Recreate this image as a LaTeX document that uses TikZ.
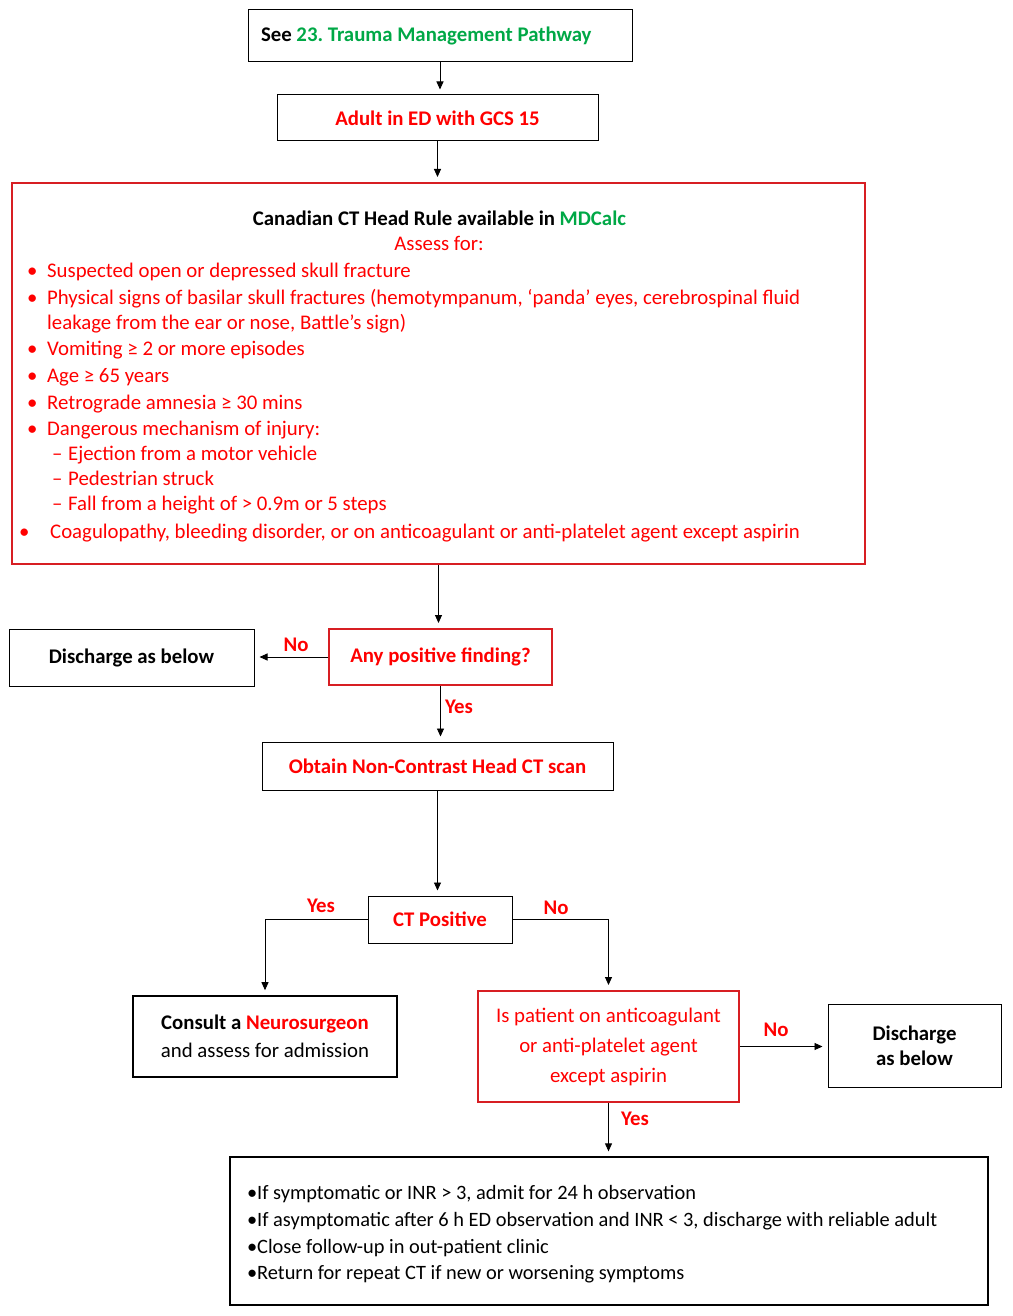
\documentclass[tikz,border=0pt]{standalone}
\usepackage{fontspec}
\setmainfont{Carlito}
\usetikzlibrary{arrows.meta,positioning}
\definecolor{tred}{RGB}{255,0,0}
\definecolor{bred}{RGB}{215,30,35}
\definecolor{tgreen}{RGB}{0,168,70}
\newcommand\bsz{\fontsize{20.8}{25}\selectfont}
\begin{document}
\frenchspacing
\begin{tikzpicture}[x=1pt, y=-1pt, >={Triangle[width=7pt,length=8pt]},
  box/.style={draw, line width=1pt, inner sep=0pt, align=center, font=\bsz},
  redbox/.style={box, draw=bred, line width=2pt},
  yesno/.style={font=\bsz\bfseries, text=tred, inner sep=0pt},
  item/.style={anchor=mid west, inner sep=0pt, font=\bsz, text=tred},
  link/.style={->, line width=0.9pt, shorten >=5pt}]
  \useasboundingbox (0,0) rectangle (1012,1316);

  % top of the pathway
  \node[box, minimum width=384pt, minimum height=52pt, text width=358pt, align=flush left, font=\bsz\bfseries] (see) at (440,36) {See \textcolor{tgreen}{23. Trauma Management Pathway}};
  \node[box, minimum width=321pt, minimum height=46pt, font=\bsz\bfseries, text=tred] (adult) at (437.5,118) {Adult in ED with GCS 15};

  % Canadian CT head rule
  \node[redbox, minimum width=853pt, minimum height=381pt] (rule) at (438.5,373.5) {};
  \node[font=\bsz\bfseries, inner sep=0pt, anchor=mid] (title) at (439.5,223) {Canadian CT Head Rule available in \textcolor{tgreen}{MDCalc}};
  \node[item, anchor=mid] (assess) at (439,248) {Assess for:};
  \foreach \yy/\txt [count=\i] in {275/{Suspected open or depressed skull fracture},
      302/{Physical signs of basilar skull fractures (hemotympanum, ‘panda’ eyes, cerebrospinal fluid},
      353/{Vomiting ≥ 2 or more episodes}, 380/{Age ≥ 65 years},
      407/{Retrograde amnesia ≥ 30 mins}, 433/{Dangerous mechanism of injury:}} {
    \node[item] (bul\i) at (27,\yy) {•};
    \node[item] (crit\i) at (47,\yy) {\txt};
  }
  \node[item] (crit2b) at (47,327) {leakage from the ear or nose, Battle’s sign)};
  \foreach \yy/\txt [count=\i] in {458/{Ejection from a motor vehicle}, 483/{Pedestrian struck},
      508/{Fall from a height of > 0.9m or 5 steps}} {
    \node[item] (dash\i) at (52,\yy) {–};
    \node[item] (mech\i) at (68,\yy) {\txt};
  }
  \node[item] (bul7) at (19,536) {•};
  \node[item] (crit7) at (50,536) {Coagulopathy, bleeding disorder, or on anticoagulant or anti-platelet agent except aspirin};

  % decisions
  \node[redbox, minimum width=223pt, minimum height=56pt, font=\bsz\bfseries, text=tred] (anypos) at (440.5,657) {Any positive finding?};
  \node[box, minimum width=245pt, minimum height=57pt, font=\bsz\bfseries] (dis1) at (131.5,657.5) {Discharge as below};
  \node[box, minimum width=351pt, minimum height=48pt, font=\bsz\bfseries, text=tred] (obtain) at (437.5,766) {Obtain Non-Contrast Head CT scan};
  \node[box, minimum width=144pt, minimum height=47pt, font=\bsz\bfseries, text=tred] (ctpos) at (440,919.5) {CT Positive};
  \node[box, line width=1.6pt, minimum width=264pt, minimum height=81pt, font=\fontsize{20.8}{28}\selectfont] (consult) at (265,1036.5) {\textbf{Consult a \textcolor{tred}{Neurosurgeon}}\\and assess for admission};
  \node[redbox, minimum width=261pt, minimum height=111pt, font=\fontsize{20.8}{30}\selectfont, text=tred] (onanti) at (608.5,1046.5) {Is patient on anticoagulant\\or anti-platelet agent\\except aspirin};
  \node[box, minimum width=173pt, minimum height=83pt, font=\bsz\bfseries] (dis2) at (914.5,1045.5) {Discharge\\as below};
  \node[box, line width=1.3pt, minimum width=758pt, minimum height=148pt, text width=724pt, align=flush left, font=\fontsize{20.4}{26.7}\selectfont] (advice) at (609,1231) {\rule{0pt}{21pt}•If symptomatic or INR > 3, admit for 24 h observation\\•If asymptomatic after 6 h ED observation and INR < 3, discharge with reliable adult\\•Close follow-up in out-patient clinic\\•Return for repeat CT if new or worsening symptoms};

  % connectors
  \draw[link] (see.south) -- (see.south |- adult.north);
  \draw[link] (adult.south) -- (adult.south |- rule.north);
  \draw[link] (rule.south) -- (rule.south |- anypos.north);
  \draw[link] (anypos.west) -- (anypos.west -| dis1.east);
  \draw[link] (anypos.south) -- (anypos.south |- obtain.north);
  \draw[link] (obtain.south) -- (obtain.south |- ctpos.north);
  \draw[link] (ctpos.west) -| (consult.north);
  \draw[link] (ctpos.east) -| (onanti.north);
  \draw[link] (onanti.east) -- (onanti.east -| dis2.west);
  \draw[link] (onanti.south) -- (onanti.south |- advice.north);

  % labels
  \node[yesno] (no1) at (296,645) {No};
  \node[yesno] (yes1) at (459,707) {Yes};
  \node[yesno] (yes2) at (321,906) {Yes};
  \node[yesno] (no2) at (556,908) {No};
  \node[yesno] (no3) at (776,1030) {No};
  \node[yesno] (yes3) at (635,1119) {Yes};
\end{tikzpicture}
\end{document}
